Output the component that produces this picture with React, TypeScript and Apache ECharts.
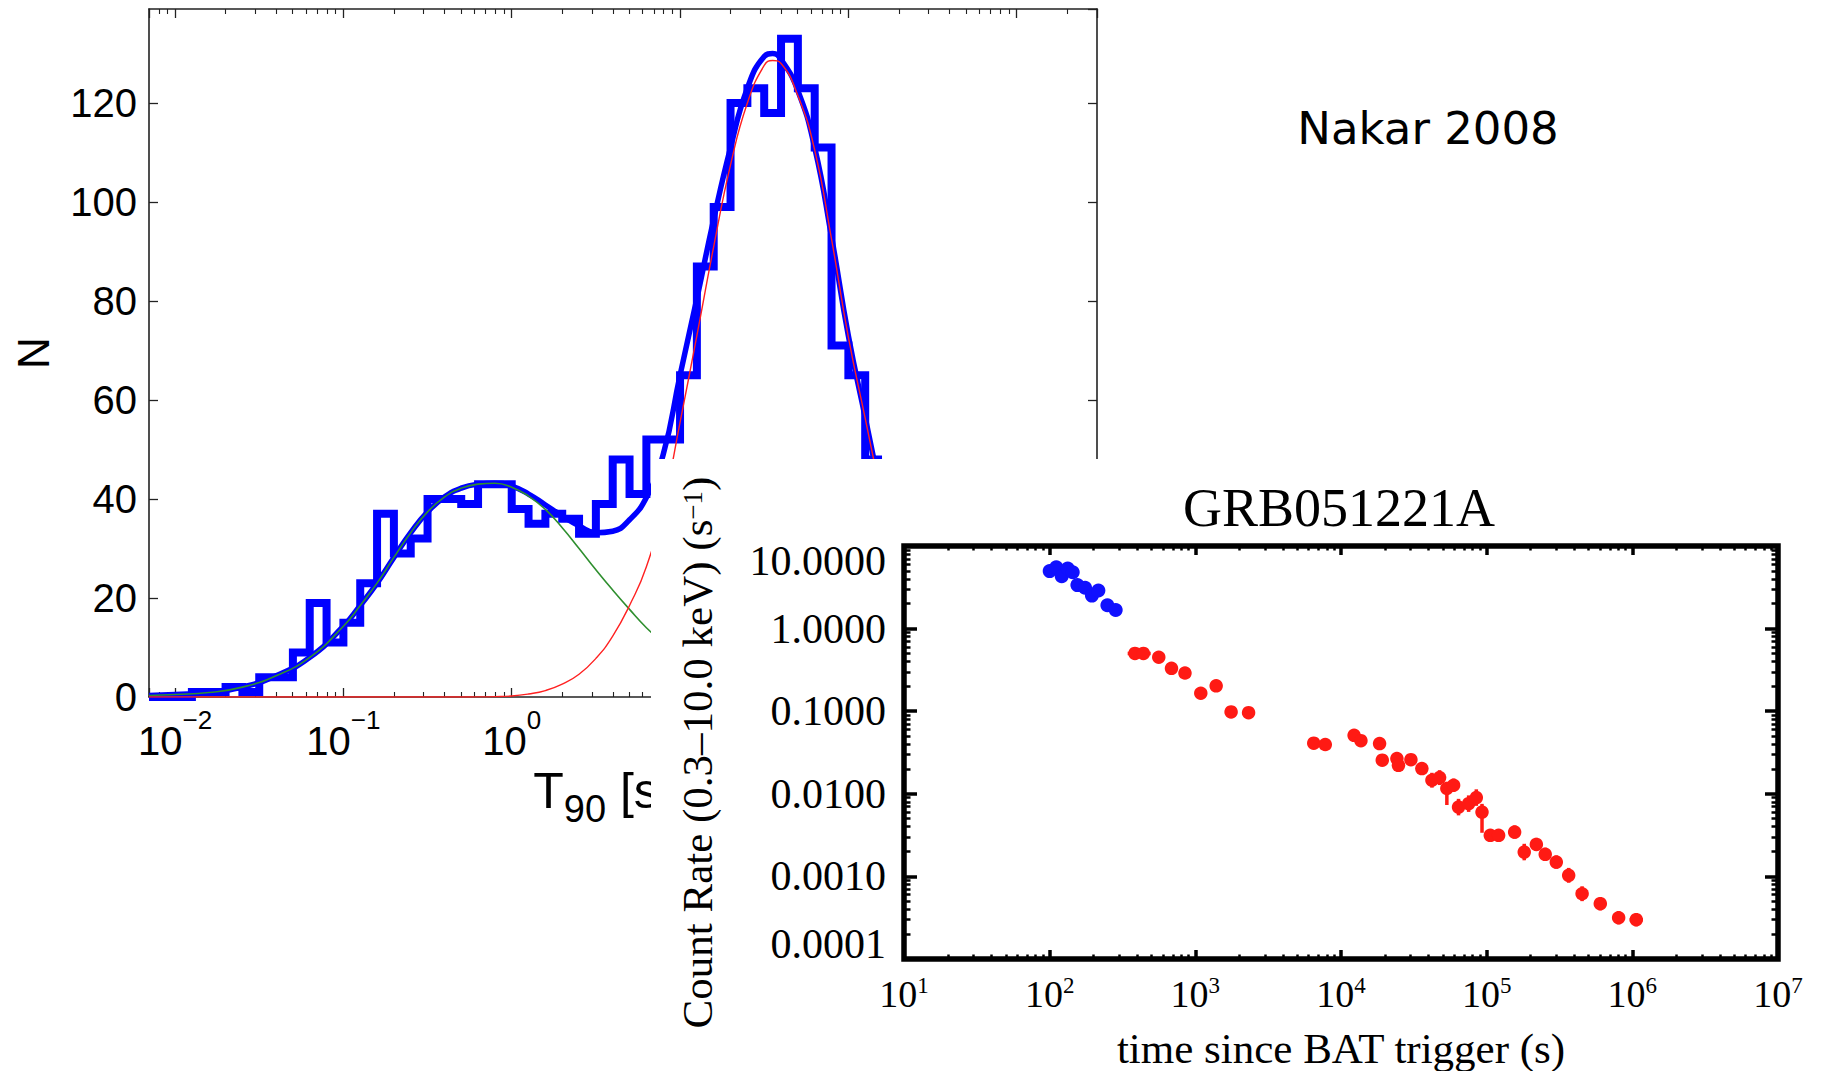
import React, { useEffect, useRef } from 'react';
import * as echarts from 'echarts';

// ---------------- Left panel: T90 distribution ----------------
const T_MIN = 0.007;
const T_MAX = 3000;
const N_MAX = 139;
const N_STEP = 20;
// decade labels drawn along the bottom of the left panel (the rest sit under the inset)
const T_LABEL_MAX = 1;

// 0.1-dex bins, log10(T90 / s); the last entry closes the last bin
const binLogEdges = [
  -1.9, -1.8, -1.7, -1.6, -1.5, -1.4, -1.3, -1.2, -1.1, -1.0,
  -0.9, -0.8, -0.7, -0.6, -0.5, -0.4, -0.3, -0.2, -0.1, 0.0,
  0.1, 0.2, 0.3, 0.4, 0.5, 0.6, 0.7, 0.8, 0.9, 1.0,
  1.1, 1.2, 1.3, 1.4, 1.5, 1.6, 1.7, 1.8, 1.9, 2.0,
  2.1, 2.2,
];
const binCounts = [
  1, 1, 2, 1, 4, 4, 9, 19, 11, 15,
  23, 37, 29, 32, 40, 40, 39, 43, 43, 38,
  35, 37, 36, 33, 39, 48, 41, 52, 52, 65,
  87, 99, 120, 123, 118, 133, 123, 111, 71, 65,
  48,
];

// fitted curves sampled along log10(T90 / s)
const fitLogT = [
  -2.155, -2.0, -1.8, -1.6, -1.4, -1.2, -1.0, -0.9, -0.8, -0.7,
  -0.6, -0.5, -0.4, -0.3, -0.2, -0.1, 0.0, 0.1, 0.2, 0.3,
  0.4, 0.5, 0.6, 0.7, 0.8, 0.9, 1.0, 1.1, 1.2, 1.3,
  1.4, 1.5, 1.55, 1.6, 1.7, 1.8, 1.9, 2.0, 2.1, 2.2,
];
const fitTotal = [
  0.3, 0.5, 0.9, 2.0, 4.3, 8.0, 14.3, 18.5, 23.0, 28.2,
  33.2, 37.4, 40.4, 42.2, 43.0, 43.2, 42.6, 41.0, 38.8, 36.6,
  34.6, 33.2, 33.5, 35.8, 40.3, 49.0, 65.0, 80.5, 96.5, 111.0,
  123.0, 129.4, 130.0, 128.8, 122.5, 111.0, 93.0, 73.0, 56.5, 40.0,
];
const fitShort = [
  0.3, 0.5, 0.9, 2.0, 4.3, 8.0, 14.3, 18.5, 23.0, 28.2,
  33.2, 37.4, 40.4, 42.2, 43.0, 43.2, 42.4, 40.6, 37.9, 34.2,
  30.0, 25.7, 21.6, 17.7, 14.0, 10.9, 8.3, null, null, null,
  null, null, null, null, null, null, null, null, null, null,
];
const fitLong = [
  0, 0, 0, 0, 0, 0, 0, 0, 0, 0,
  0, 0, 0, 0, 0.02, 0.08, 0.2, 0.6, 1.3, 2.6,
  4.6, 7.8, 12.3, 18.5, 26.3, 38.5, 55.5, 73.0, 91.0, 107.5,
  120.0, 127.6, 128.6, 128.0, 121.5, 110.5, 92.5, 72.7, 56.3, 39.8,
];

// ---------------- Right panel: GRB051221A XRT light curve ----------------
const RATE_MIN = 1e-4;
const RATE_MAX = 10;
const TIME_MIN = 10;
const TIME_MAX = 1e7;

const wtTime = [100, 111, 121, 133, 144, 155, 175, 195, 216, 249, 284];
const wtRate = [4.97, 5.53, 4.31, 5.35, 4.81, 3.36, 3.12, 2.51, 2.89, 1.92, 1.68];

const pcTime = [
  385, 440, 561, 686, 849, 1090, 1390, 1760, 2320, 6500,
  7800, 12300, 13700, 18400, 19200, 24200, 24800, 30200, 35900, 42100,
  47500, 53300, 59300, 64100, 75200, 84900, 92900, 105900, 120800, 155600,
  181100, 219300, 252400, 300600, 365600, 451900, 602600, 805400, 1064000,
];
const pcRate = [
  0.5, 0.5, 0.45, 0.33, 0.29, 0.165, 0.203, 0.098, 0.096, 0.041,
  0.0395, 0.051, 0.044, 0.0406, 0.0255, 0.0267, 0.0221, 0.0259, 0.0202, 0.0146,
  0.0157, 0.0116, 0.0127, 0.0069, 0.0076, 0.009, 0.006, 0.00314, 0.00314, 0.00344,
  0.00197, 0.00244, 0.00185, 0.00149, 0.00103, 0.000617, 0.000467, 0.000316, 0.000299,
];
// error bar half-sizes in dex
const pcTimeErr = [
  0.05, 0.05, 0.04, 0.04, 0.04, 0.035, 0.035, 0.04, 0.04, 0.03,
  0.03, 0.025, 0.025, 0.02, 0.02, 0.02, 0.02, 0.02, 0.02, 0.02,
  0.02, 0.02, 0.02, 0.02, 0.02, 0.02, 0.02, 0.04, 0.04, 0.03,
  0.025, 0.025, 0.025, 0.03, 0.03, 0.03, 0.035, 0.04, 0.045,
];
const pcRateErrLo = [
  0.03, 0.03, 0.03, 0.03, 0.03, 0.04, 0.04, 0.04, 0.04, 0.05,
  0.05, 0.05, 0.05, 0.06, 0.07, 0.08, 0.08, 0.06, 0.06, 0.09,
  0.09, 0.2, 0.08, 0.1, 0.1, 0.1, 0.25, 0.06, 0.06, 0.08,
  0.1, 0.08, 0.08, 0.08, 0.09, 0.09, 0.08, 0.08, 0.08,
];
const pcRateErrHi = [
  0.03, 0.03, 0.03, 0.03, 0.03, 0.04, 0.04, 0.04, 0.04, 0.05,
  0.05, 0.05, 0.05, 0.06, 0.07, 0.08, 0.08, 0.06, 0.06, 0.09,
  0.09, 0.08, 0.08, 0.1, 0.1, 0.1, 0.1, 0.06, 0.06, 0.08,
  0.1, 0.08, 0.08, 0.08, 0.09, 0.09, 0.08, 0.08, 0.08,
];

// ---------------- styling ----------------
const SANS = '"Liberation Sans", Arial, Helvetica, sans-serif';
const SERIF = '"Liberation Serif", "Times New Roman", Times, serif';
const AXIS_DARK = '#222222';
const BLUE = '#0000ff';
const GREEN = '#2f8f2f';
const RED_FIT = '#ff2020';
const RED_PTS = '#ff1a14';
const BLUE_PTS = '#1010ff';

const powerExp = (v: number): string | null => {
  const e = Math.log10(v);
  const r = Math.round(e);
  if (Math.abs(e - r) > 1e-6) return null;
  return r < 0 ? '\u2212' + String(-r) : String(r);
};

const powerLabel = (v: number) => {
  const exp = powerExp(v);
  return exp === null ? '' : `{b|10}{s|${exp}}`;
};

const leftPowerLabel = (v: number) => (v > T_LABEL_MAX * 1.001 ? '' : powerLabel(v));

function buildOption() {
  const histData: number[][] = [[T_MIN, 0]];
  binCounts.forEach((c, i) => histData.push([Math.pow(10, binLogEdges[i]), c]));
  histData.push([Math.pow(10, binLogEdges[binLogEdges.length - 1]), binCounts[binCounts.length - 1]]);

  const curve = (vals: (number | null)[]) =>
    fitLogT.map((e, i) => [Math.pow(10, e), vals[i] === null ? null : vals[i]]);

  const pcBars = pcTime.map((t, i) => [
    t,
    pcRate[i],
    t / Math.pow(10, pcTimeErr[i]),
    t * Math.pow(10, pcTimeErr[i]),
    pcRate[i] / Math.pow(10, pcRateErrLo[i]),
    pcRate[i] * Math.pow(10, pcRateErrHi[i]),
  ]);

  const leftAxisCommon = {
    axisLine: { show: true, onZero: false, lineStyle: { color: AXIS_DARK, width: 1.6 } },
    axisTick: { show: true, inside: true, length: 9, lineStyle: { color: AXIS_DARK, width: 1.3 } },
    splitLine: { show: false },
    nameMoveOverlap: false,
  };
  const leftLogCommon = {
    ...leftAxisCommon,
    type: 'log',
    logBase: 10,
    min: T_MIN,
    max: T_MAX,
    gridIndex: 0,
    minorTick: { show: true, splitNumber: 9, length: 5, lineStyle: { color: AXIS_DARK, width: 1.1 } },
  };
  const leftValueCommon = {
    ...leftAxisCommon,
    type: 'value',
    min: 0,
    max: N_MAX,
    interval: N_STEP,
    gridIndex: 0,
  };

  const rightAxisCommon = {
    axisLine: { show: false, onZero: false },
    splitLine: { show: false },
    gridIndex: 1,
    z: 20,
    nameMoveOverlap: false,
  };
  const rightTimeCommon = {
    ...rightAxisCommon,
    type: 'log',
    logBase: 10,
    min: TIME_MIN,
    max: TIME_MAX,
    axisTick: { show: true, inside: true, length: 9, lineStyle: { color: '#000', width: 3.5 } },
    minorTick: { show: true, splitNumber: 9, length: 4.5, lineStyle: { color: '#000', width: 2.5 } },
  };
  const rightRateCommon = {
    ...rightAxisCommon,
    type: 'log',
    logBase: 10,
    min: RATE_MIN,
    max: RATE_MAX,
    axisTick: { show: true, inside: true, length: 13, lineStyle: { color: '#000', width: 3.5 } },
    minorTick: { show: true, splitNumber: 9, length: 6.5, lineStyle: { color: '#000', width: 2.5 } },
  };

  return {
    animation: false,
    backgroundColor: '#ffffff',
    grid: [
      { left: 149, top: 9, width: 948, height: 688, show: false, containLabel: false, outerBoundsMode: 'none' },
      {
        left: 904, top: 546, width: 874, height: 413,
        show: true, borderWidth: 5.5, borderColor: '#000', backgroundColor: 'transparent',
        containLabel: false, outerBoundsMode: 'none', z: 15,
      },
    ],
    xAxis: [
      {
        ...leftLogCommon,
        position: 'bottom',
        axisLabel: {
          show: true,
          margin: 10,
          formatter: leftPowerLabel,
          rich: {
            b: { fontFamily: SANS, fontSize: 40, lineHeight: 40, padding: [14, 0, 0, 0], verticalAlign: 'top', color: '#000' },
            s: { fontFamily: SANS, fontSize: 26, lineHeight: 26, verticalAlign: 'top', color: '#000' },
          },
        },
        name: '{t|T}{u|90}{t| [s]}',
        nameLocation: 'middle',
        nameGap: 69,
        nameTextStyle: {
          padding: [0, 40, 0, 0],
          rich: {
            t: { fontFamily: SANS, fontSize: 50, lineHeight: 50, verticalAlign: 'top', color: '#000' },
            u: { fontFamily: SANS, fontSize: 38, lineHeight: 38, padding: [24, 0, 0, 0], verticalAlign: 'top', color: '#000' },
          },
        },
      },
      { ...leftLogCommon, position: 'top', axisLabel: { show: false } },
      {
        ...rightTimeCommon,
        position: 'bottom',
        axisLabel: {
          show: true,
          margin: 15,
          formatter: powerLabel,
          rich: {
            b: { fontFamily: SERIF, fontSize: 38, lineHeight: 38, padding: [1, 0, 0, 0], verticalAlign: 'top', color: '#000' },
            s: { fontFamily: SERIF, fontSize: 23, lineHeight: 23, verticalAlign: 'top', color: '#000' },
          },
        },
        name: 'time since BAT trigger (s)',
        nameLocation: 'middle',
        nameGap: 68,
        nameTextStyle: { fontFamily: SERIF, fontSize: 43, lineHeight: 43, color: '#000' },
      },
      { ...rightTimeCommon, position: 'top', axisLabel: { show: false } },
    ],
    yAxis: [
      {
        ...leftValueCommon,
        position: 'left',
        axisLabel: {
          show: true, margin: 12, showMaxLabel: false,
          fontFamily: SANS, fontSize: 40, color: '#000',
        },
        name: 'N',
        nameLocation: 'middle',
        nameGap: 94,
        nameTextStyle: { fontFamily: SANS, fontSize: 44, lineHeight: 44, color: '#000' },
      },
      { ...leftValueCommon, position: 'right', axisLabel: { show: false } },
      {
        ...rightRateCommon,
        position: 'left',
        axisLabel: {
          show: true, margin: 18,
          fontFamily: SERIF, fontSize: 42, lineHeight: 30, color: '#000',
          formatter: (v: number) => v.toFixed(4),
          verticalAlignMaxLabel: 'top',
          verticalAlignMinLabel: 'bottom',
        },
        name: '{a|Count Rate (0.3\u201310.0 keV) (s}{b|\u22121}{a|)}',
        nameLocation: 'middle',
        nameGap: 185,
        nameTextStyle: {
          rich: {
            a: { fontFamily: SERIF, fontSize: 43, lineHeight: 40, verticalAlign: 'bottom', color: '#000' },
            b: { fontFamily: SERIF, fontSize: 27, lineHeight: 27, verticalAlign: 'top', color: '#000' },
          },
        },
      },
      { ...rightRateCommon, position: 'right', axisLabel: { show: false } },
    ],
    graphic: [
      {
        type: 'rect',
        z: 10,
        shape: { x: 651, y: 459, width: 1822 - 651, height: 1071 - 459 },
        style: { fill: '#ffffff' },
      },
      {
        type: 'text',
        z: 40,
        x: 1339,
        y: 508,
        style: {
          text: 'GRB051221A', fill: '#000', fontFamily: SERIF, fontSize: 54,
          align: 'center', verticalAlign: 'middle',
        },
      },
      {
        type: 'text',
        z: 40,
        x: 1428,
        y: 128,
        style: {
          text: 'Nakar 2008', fill: '#000', fontFamily: '"DejaVu Sans", sans-serif', fontSize: 45,
          align: 'center', verticalAlign: 'middle',
        },
      },
    ],
    series: [
      {
        name: 'T90 histogram',
        type: 'line',
        xAxisIndex: 0,
        yAxisIndex: 0,
        data: histData,
        step: 'end',
        symbol: 'none',
        lineStyle: { color: BLUE, width: 8, join: 'miter' },
        z: 2,
      },
      {
        name: 'total fit',
        type: 'line',
        xAxisIndex: 0,
        yAxisIndex: 0,
        data: curve(fitTotal),
        smooth: true,
        symbol: 'none',
        lineStyle: { color: BLUE, width: 5.5 },
        z: 3,
      },
      {
        name: 'short component',
        type: 'line',
        xAxisIndex: 0,
        yAxisIndex: 0,
        data: curve(fitShort),
        smooth: true,
        connectNulls: false,
        symbol: 'none',
        lineStyle: { color: GREEN, width: 1.6 },
        z: 4,
      },
      {
        name: 'long component',
        type: 'line',
        xAxisIndex: 0,
        yAxisIndex: 0,
        data: curve(fitLong),
        smooth: true,
        symbol: 'none',
        lineStyle: { color: RED_FIT, width: 1.4 },
        z: 5,
      },
      {
        name: 'PC error bars',
        type: 'custom',
        xAxisIndex: 2,
        yAxisIndex: 2,
        data: pcBars,
        encode: { x: 0, y: 1 },
        z: 30,
        renderItem: (_params: any, api: any) => {
          const x = api.value(0);
          const y = api.value(1);
          const l = api.coord([api.value(2), y]);
          const r = api.coord([api.value(3), y]);
          const b = api.coord([x, api.value(4)]);
          const t = api.coord([x, api.value(5)]);
          const style = { stroke: RED_PTS, lineWidth: 3.5 };
          return {
            type: 'group',
            children: [
              { type: 'line', shape: { x1: l[0], y1: l[1], x2: r[0], y2: r[1] }, style },
              { type: 'line', shape: { x1: b[0], y1: b[1], x2: t[0], y2: t[1] }, style },
            ],
          };
        },
      },
      {
        name: 'PC',
        type: 'scatter',
        xAxisIndex: 2,
        yAxisIndex: 2,
        data: pcTime.map((t, i) => [t, pcRate[i]]),
        symbol: 'circle',
        symbolSize: 13.5,
        itemStyle: { color: RED_PTS, opacity: 1 },
        z: 31,
      },
      {
        name: 'WT',
        type: 'scatter',
        xAxisIndex: 2,
        yAxisIndex: 2,
        data: wtTime.map((t, i) => [t, wtRate[i]]),
        symbol: 'circle',
        symbolSize: 14,
        itemStyle: { color: BLUE_PTS, opacity: 1 },
        z: 31,
      },
    ],
  };
}

export default function App() {
  const ref = useRef<HTMLDivElement>(null);
  useEffect(() => {
    if (!ref.current) return;
    const chart = echarts.init(ref.current, undefined, { renderer: 'svg' });
    chart.setOption(buildOption() as any);
    return () => chart.dispose();
  }, []);
  return (
    <div
      ref={ref}
      style={{ position: 'fixed', left: 0, top: 0, width: 1822, height: 1071, background: '#fff' }}
    />
  );
}
